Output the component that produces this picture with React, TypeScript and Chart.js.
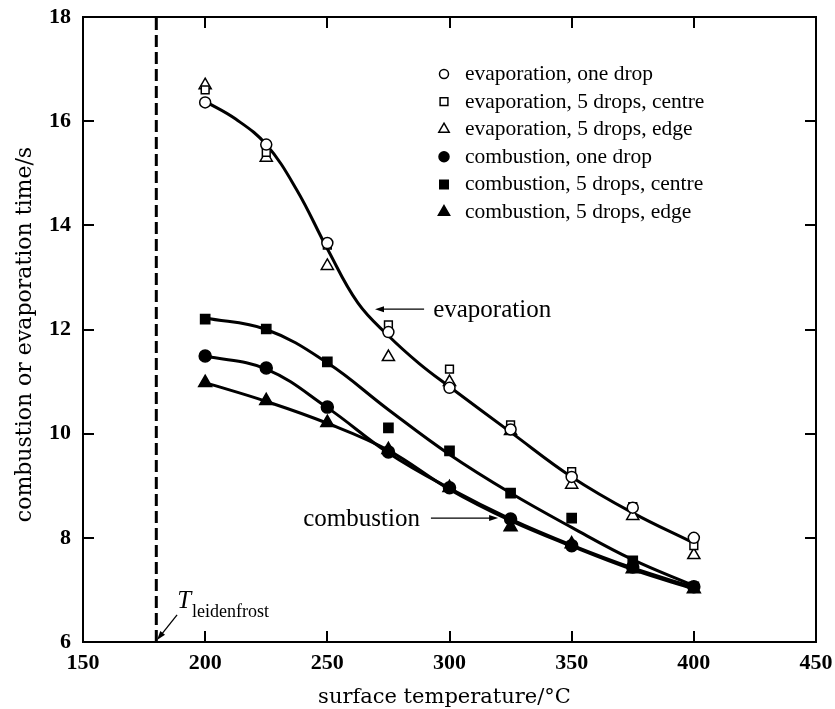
import React, { useEffect, useRef } from 'react';
import { Chart, registerables } from 'chart.js';

Chart.register(...registerables);

// Surface temperatures (°C) at which drops were measured
const TEMPS = [200, 225, 250, 275, 300, 325, 350, 375, 400];

// Measured times (s)
const EVAP_ONE = [16.36, 15.55, 13.66, 11.95, 10.88, 10.08, 9.17, 8.58, 8.0];
const EVAP_CENTRE = [16.6, 15.4, 13.62, 12.09, 11.24, 10.17, 9.27, 8.6, 7.85];
const EVAP_EDGE = [16.69, 15.3, 13.22, 11.47, 10.99, 10.05, 9.02, 8.42, 7.67];
const COMB_ONE = [11.49, 11.26, 10.51, 9.65, 8.96, 8.36, 7.85, 7.44, 7.06];
const COMB_CENTRE = [12.2, 12.01, 11.38, 10.11, 9.67, 8.86, 8.38, 7.56, 7.06];
const COMB_EDGE = [10.98, 10.63, 10.21, 9.69, 8.96, 8.21, 7.88, 7.4, 7.02];

// Smooth fitted curves through the data
const EVAP_FIT_T = [200, 212.5, 225, 237.5, 250, 262.5, 275, 287.5, 300, 325, 350, 375, 400];
const EVAP_FIT = [16.38, 16.04, 15.55, 14.68, 13.55, 12.51, 11.88, 11.35, 10.9, 10.03, 9.17, 8.48, 7.9];
const COMB_CENTRE_FIT = [12.22, 12.0, 11.36, 10.46, 9.6, 8.86, 8.2, 7.58, 7.08];
const COMB_ONE_FIT = [11.49, 11.24, 10.5, 9.63, 8.95, 8.36, 7.86, 7.42, 7.05];
const COMB_EDGE_FIT = [10.98, 10.62, 10.2, 9.68, 8.93, 8.33, 7.84, 7.39, 7.02];

// Leidenfrost temperature (°C)
const LEIDENFROST = 180;

// Axis ranges
const X_RANGE = [150, 450];
const X_STEP = 50;
const Y_RANGE = [6, 18];
const Y_STEP = 2;

const LEGEND_LABELS = [
  'evaporation, one drop',
  'evaporation, 5 drops, centre',
  'evaporation, 5 drops, edge',
  'combustion, one drop',
  'combustion, 5 drops, centre',
  'combustion, 5 drops, edge',
];

const X_TITLE = 'surface temperature/°C';
const Y_TITLE = 'combustion or evaporation time/s';

const pts = (vals: number[], xs: number[] = TEMPS) => vals.map((v, i) => ({ x: xs[i], y: v }));

type Shape = 'circle' | 'rect' | 'triangle';

function drawMarker(ctx: CanvasRenderingContext2D, shape: Shape, filled: boolean, x: number, y: number, r: number) {
  ctx.beginPath();
  if (shape === 'circle') {
    ctx.arc(x, y, r, 0, Math.PI * 2);
  } else if (shape === 'rect') {
    const s = r * Math.SQRT1_2;
    ctx.rect(x - s, y - s, 2 * s, 2 * s);
  } else {
    for (let k = 0; k < 3; k++) {
      const a = (k * 2 * Math.PI) / 3;
      const px = x + Math.sin(a) * r;
      const py = y - Math.cos(a) * r;
      if (k === 0) ctx.moveTo(px, py);
      else ctx.lineTo(px, py);
    }
    ctx.closePath();
  }
  ctx.fillStyle = filled ? '#000' : '#fff';
  ctx.fill();
  ctx.lineWidth = 1.5;
  ctx.strokeStyle = '#000';
  ctx.stroke();
}

function arrow(ctx: CanvasRenderingContext2D, x0: number, y0: number, x1: number, y1: number) {
  const ang = Math.atan2(y1 - y0, x1 - x0);
  const head = 9;
  const half = 3;
  ctx.beginPath();
  ctx.moveTo(x0, y0);
  ctx.lineTo(x1 - Math.cos(ang) * head * 0.8, y1 - Math.sin(ang) * head * 0.8);
  ctx.lineWidth = 1.3;
  ctx.strokeStyle = '#000';
  ctx.stroke();
  ctx.beginPath();
  ctx.moveTo(x1, y1);
  ctx.lineTo(x1 - Math.cos(ang) * head + Math.sin(ang) * half, y1 - Math.sin(ang) * head - Math.cos(ang) * half);
  ctx.lineTo(x1 - Math.cos(ang) * head - Math.sin(ang) * half, y1 - Math.sin(ang) * head + Math.cos(ang) * half);
  ctx.closePath();
  ctx.fillStyle = '#000';
  ctx.fill();
}

const LEGEND_SHAPES: [Shape, boolean, number][] = [
  ['circle', false, 4.5],
  ['rect', false, 5.5],
  ['triangle', false, 6],
  ['circle', true, 5],
  ['rect', true, 6],
  ['triangle', true, 6.5],
];

const frame = {
  id: 'frame',
  afterDraw(chart: any) {
    const { ctx, chartArea: a, scales } = chart;
    const xs = scales.x;
    const ys = scales.y;
    ctx.save();

    // box and inward ticks
    ctx.strokeStyle = '#000';
    ctx.lineWidth = 2;
    ctx.strokeRect(a.left, a.top, a.right - a.left, a.bottom - a.top);
    const tick = 11;
    ctx.beginPath();
    for (const t of xs.ticks) {
      const px = Math.round(xs.getPixelForValue(t.value));
      ctx.moveTo(px, a.bottom);
      ctx.lineTo(px, a.bottom - tick);
      ctx.moveTo(px, a.top);
      ctx.lineTo(px, a.top + tick);
    }
    for (const t of ys.ticks) {
      const py = Math.round(ys.getPixelForValue(t.value));
      ctx.moveTo(a.left, py);
      ctx.lineTo(a.left + tick, py);
      ctx.moveTo(a.right, py);
      ctx.lineTo(a.right - tick, py);
    }
    ctx.stroke();

    // legend
    const lx = 444;
    const ly0 = 74;
    const dy = 27.6;
    ctx.font = '21.5px "Liberation Serif"';
    ctx.textAlign = 'left';
    ctx.textBaseline = 'alphabetic';
    LEGEND_LABELS.forEach((label, i) => {
      const [shape, filled, r] = LEGEND_SHAPES[i];
      const cy = ly0 + i * dy;
      drawMarker(ctx, shape, filled, lx, cy, r);
      ctx.fillStyle = '#000';
      ctx.fillText(label, lx + 21, cy + 6);
    });

    // curve annotations
    const X = (v: number) => xs.getPixelForValue(v);
    const Y = (v: number) => ys.getPixelForValue(v);
    ctx.font = '25px "Liberation Serif"';
    ctx.fillStyle = '#000';
    arrow(ctx, X(289.6), Y(12.39), X(269.5), Y(12.39));
    ctx.textAlign = 'left';
    ctx.fillText('evaporation', X(293.3), Y(12.24));

    arrow(ctx, X(292.4), Y(8.38), X(319.9), Y(8.38));
    ctx.textAlign = 'right';
    ctx.fillText('combustion', X(287.9), Y(8.23));

    // Leidenfrost label
    ctx.textAlign = 'left';
    ctx.font = 'italic 25px "Liberation Serif"';
    ctx.fillText('T', X(188.6), Y(6.65));
    ctx.font = '18px "Liberation Serif"';
    ctx.fillText('leidenfrost', X(194.6), Y(6.48));
    arrow(ctx, X(188.5), Y(6.52), X(LEIDENFROST + 0.3), Y(6.04));

    // axis titles
    ctx.font = '21px "DejaVu Serif"';
    ctx.textAlign = 'center';
    ctx.fillText(X_TITLE, (a.left + a.right) / 2 - 5, 703);
    ctx.save();
    ctx.translate(31, (a.top + a.bottom) / 2 + 5);
    ctx.rotate(-Math.PI / 2);
    ctx.font = '22px "DejaVu Serif"';
    ctx.fillText(Y_TITLE, 0, 0);
    ctx.restore();

    ctx.restore();
  },
};

export default function App() {
  const ref = useRef<HTMLCanvasElement | null>(null);

  useEffect(() => {
    if (!ref.current) return;
    const scatter = (data: number[], style: Shape, filled: boolean, r: number) => ({
      type: 'scatter' as const,
      data: pts(data),
      showLine: false,
      pointStyle: style,
      pointRadius: r,
      pointBorderWidth: 1.5,
      pointBorderColor: '#000',
      pointBackgroundColor: filled ? '#000' : '#fff',
      order: 0,
    });
    const curve = (data: number[], xs: number[] = TEMPS) => ({
      type: 'line' as const,
      data: pts(data, xs),
      borderColor: '#000',
      borderWidth: 3,
      pointRadius: 0,
      tension: 0.4,
      fill: false,
      order: 1,
    });

    const chart = new Chart(ref.current, {
      type: 'scatter',
      data: {
        datasets: [
          scatter(EVAP_ONE, 'circle', false, 5.5),
          scatter(EVAP_CENTRE, 'rect', false, 5.5),
          scatter(EVAP_EDGE, 'triangle', false, 7),
          scatter(COMB_ONE, 'circle', true, 6),
          scatter(COMB_CENTRE, 'rect', true, 6.5),
          scatter(COMB_EDGE, 'triangle', true, 7.5),
          curve(EVAP_FIT, EVAP_FIT_T),
          curve(COMB_CENTRE_FIT),
          curve(COMB_ONE_FIT),
          curve(COMB_EDGE_FIT),
          {
            type: 'line' as const,
            data: [
              { x: LEIDENFROST, y: Y_RANGE[0] },
              { x: LEIDENFROST, y: Y_RANGE[1] },
            ],
            borderColor: '#000',
            borderWidth: 3,
            borderDash: [12, 5],
            pointRadius: 0,
            order: 2,
          },
        ] as any,
      },
      options: {
        responsive: false,
        animation: false,
        devicePixelRatio: 1,
        events: [],
        layout: { padding: { top: 17, right: 19, left: 0, bottom: 0 } },
        plugins: { legend: { display: false }, tooltip: { enabled: false } },
        scales: {
          x: {
            type: 'linear',
            min: X_RANGE[0],
            max: X_RANGE[1],
            ticks: {
              stepSize: X_STEP,
              color: '#000',
              padding: 8,
              maxRotation: 0,
              font: { family: '"Liberation Serif"', weight: 'bold', size: 22 },
            },
            grid: { display: false, drawTicks: false },
            border: { display: false },
            afterFit: (s: any) => {
              s.height = 67;
              s.paddingLeft = 0;
              s.paddingRight = 0;
            },
          },
          y: {
            type: 'linear',
            min: Y_RANGE[0],
            max: Y_RANGE[1],
            ticks: {
              stepSize: Y_STEP,
              color: '#000',
              padding: 12,
              font: { family: '"Liberation Serif"', weight: 'bold', size: 22 },
            },
            grid: { display: false, drawTicks: false },
            border: { display: false },
            afterFit: (s: any) => {
              s.width = 83;
              s.paddingTop = 0;
              s.paddingBottom = 0;
            },
          },
        },
      },
      plugins: [frame],
    });
    return () => chart.destroy();
  }, []);

  return (
    <div style={{ position: 'fixed', left: 0, top: 0, width: 835, height: 709, background: '#fff' }}>
      <canvas ref={ref} width={835} height={709} style={{ display: 'block' }} />
    </div>
  );
}
